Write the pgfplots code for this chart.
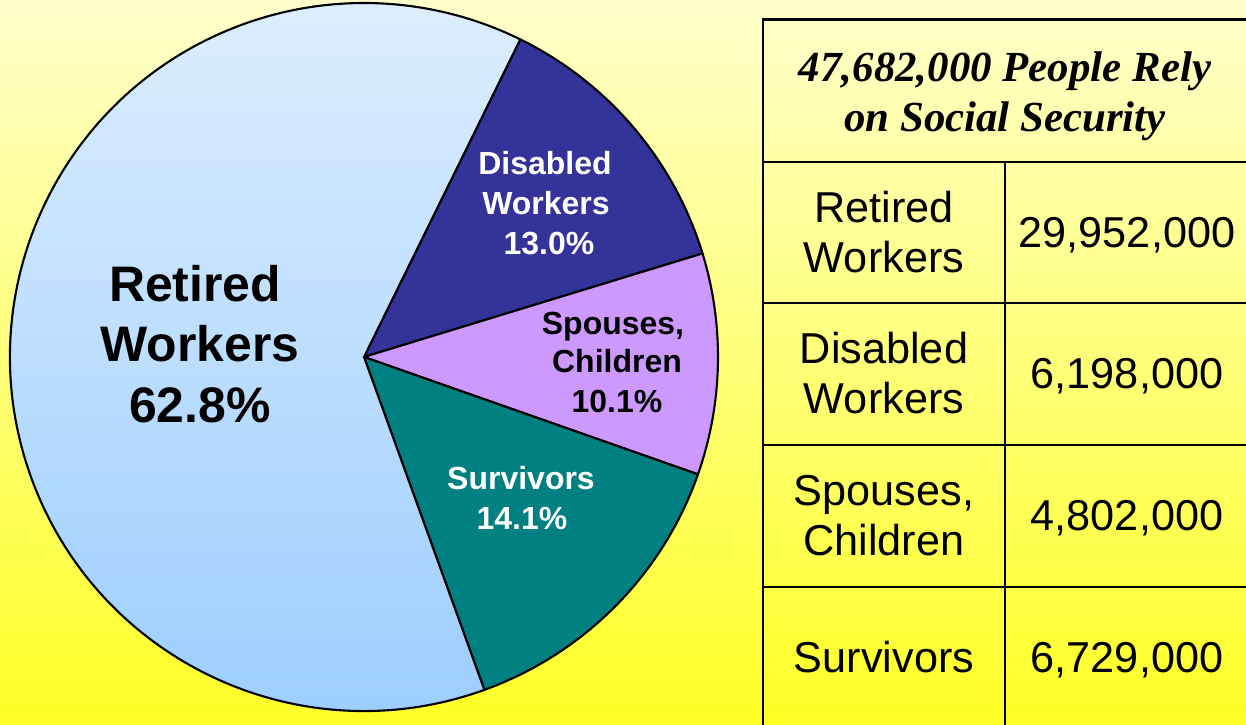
\documentclass[border=0pt]{standalone}
\usepackage{pgfplots}
\pgfplotsset{compat=1.18}
\usepackage{fontspec}
\setmainfont{Liberation Sans}
\newfontfamily\timesfont{Liberation Serif}
\definecolor{bgtop}{HTML}{FFFFCC}
\definecolor{bgbot}{HTML}{FFFF26}
\definecolor{disabled}{HTML}{333399}
\definecolor{spouses}{HTML}{CC99FF}
\definecolor{survivors}{HTML}{008080}
\definecolor{rtop}{HTML}{DDEEFF}
\definecolor{rbot}{HTML}{99CCFF}
\tikzset{
  sDisabled/.style={fill=disabled},
  sSpouses/.style={fill=spouses},
  sSurvivors/.style={fill=survivors},
  sRetired/.style={top color=rtop, bottom color=rbot},
}
\begin{document}
\begin{tikzpicture}
\begin{axis}[scale only axis, width=12.46cm, height=7.25cm,
  xmin=0, xmax=1246, ymin=0, ymax=725, axis lines=none, clip=true]
\pgfplotsextra{
  % background
  \fill[top color=bgtop, bottom color=bgbot] (axis cs:0,0) rectangle (axis cs:1246,725);
  % pie: shares in percent, clockwise from 63.8 degrees
  \gdef\sA{63.8}
  \foreach \p/\st in {13.0/sDisabled, 10.1/sSpouses, 14.1/sSurvivors, 62.8/sRetired} {
    \pgfmathsetmacro\eA{\sA-3.6*\p}
    \pgfmathsetmacro\px{364+354*cos(\sA)}
    \pgfmathsetmacro\py{368+354*sin(\sA)}
    \path[\st, draw=black, line width=0.6pt, line join=round]
      (axis cs:364,368) -- (axis cs:\px,\py)
      arc[start angle=\sA, end angle=\eA, radius=3.54cm] -- cycle;
    \xdef\sA{\eA}
  }
  % table lines
  \foreach \yy in {563,422,280,138} {
    \draw[line width=0.4pt] (axis cs:763,\yy) -- (axis cs:1260,\yy);
  }
  \draw[line width=0.4pt] (axis cs:1005,563) -- (axis cs:1005,-20);
  \draw[line width=0.85pt, line join=miter] (axis cs:763,-20) -- (axis cs:763,705) -- (axis cs:1260,705);
}
% pie labels
\node[anchor=base, font=\bfseries\fontsize{14.2}{17}\selectfont] at (axis cs:195,423) {Retired};
\node[anchor=base, font=\bfseries\fontsize{14.2}{17}\selectfont] at (axis cs:200,363) {Workers};
\node[anchor=base, font=\bfseries\fontsize{14.2}{17}\selectfont] at (axis cs:200,302) {62.8\%};
\node[anchor=base, text=white, font=\bfseries\fontsize{9.1}{11}\selectfont] at (axis cs:545,550) {Disabled};
\node[anchor=base, text=white, font=\bfseries\fontsize{9.1}{11}\selectfont] at (axis cs:546,510) {Workers};
\node[anchor=base, text=white, font=\bfseries\fontsize{9.1}{11}\selectfont] at (axis cs:549,470) {13.0\%};
\node[anchor=base, font=\bfseries\fontsize{9.1}{11}\selectfont] at (axis cs:613,390) {Spouses,};
\node[anchor=base, font=\bfseries\fontsize{9.1}{11}\selectfont] at (axis cs:617,352) {Children};
\node[anchor=base, font=\bfseries\fontsize{9.1}{11}\selectfont] at (axis cs:617,312) {10.1\%};
\node[anchor=base, text=white, font=\bfseries\fontsize{9.1}{11}\selectfont] at (axis cs:521,235) {Survivors};
\node[anchor=base, text=white, font=\bfseries\fontsize{9.1}{11}\selectfont] at (axis cs:522,195) {14.1\%};
% table header
\node[anchor=base, font=\timesfont\bfseries\itshape\fontsize{12.2}{14}\selectfont] at (axis cs:1005,643) {47,682,000 People Rely};
\node[anchor=base, font=\timesfont\bfseries\itshape\fontsize{12.2}{14}\selectfont] at (axis cs:1005,593) {on Social Security};
% table body
\node[anchor=base, font=\fontsize{12.3}{14}\selectfont] at (axis cs:884,502.5) {Retired};
\node[anchor=base, font=\fontsize{12.3}{14}\selectfont] at (axis cs:884,452.5) {Workers};
\node[anchor=base, font=\fontsize{12.3}{14}\selectfont] at (axis cs:1127,477.5) {29,952,000};
\node[anchor=base, font=\fontsize{12.3}{14}\selectfont] at (axis cs:884,361) {Disabled};
\node[anchor=base, font=\fontsize{12.3}{14}\selectfont] at (axis cs:884,311) {Workers};
\node[anchor=base, font=\fontsize{12.3}{14}\selectfont] at (axis cs:1127,336) {6,198,000};
\node[anchor=base, font=\fontsize{12.3}{14}\selectfont] at (axis cs:884,219) {Spouses,};
\node[anchor=base, font=\fontsize{12.3}{14}\selectfont] at (axis cs:884,169) {Children};
\node[anchor=base, font=\fontsize{12.3}{14}\selectfont] at (axis cs:1127,194) {4,802,000};
\node[anchor=base, font=\fontsize{12.3}{14}\selectfont] at (axis cs:884,52) {Survivors};
\node[anchor=base, font=\fontsize{12.3}{14}\selectfont] at (axis cs:1127,52) {6,729,000};
\end{axis}
\end{tikzpicture}
\end{document}
